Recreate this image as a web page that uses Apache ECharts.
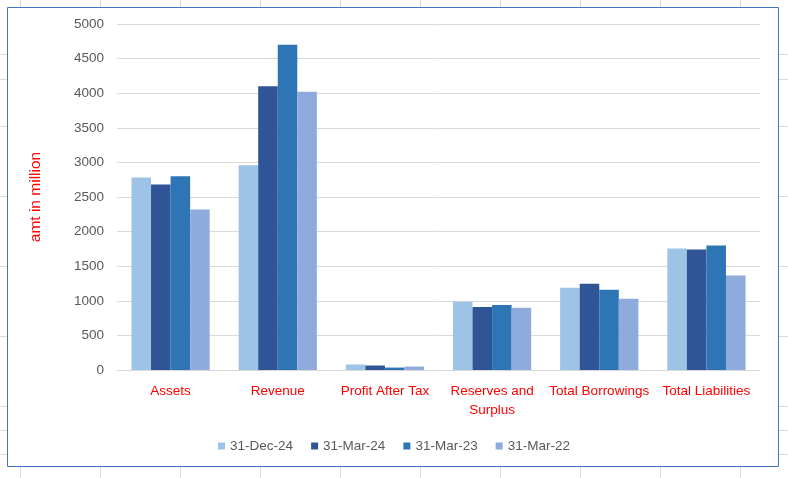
<!DOCTYPE html>
<html>
<head>
<meta charset="utf-8">
<script src="https://cdn.jsdelivr.net/npm/echarts@6/dist/echarts.min.js"></script>
<style>
html,body{margin:0;padding:0;background:#fff;}
#chart{width:788px;height:478px;}
</style>
</head>
<body>
<div id="chart"></div>
<script>
const categories = ['Assets', 'Revenue', 'Profit After Tax', 'Reserves and Surplus', 'Total Borrowings', 'Total Liabilities'];
const seriesNames = ['31-Dec-24', '31-Mar-24', '31-Mar-23', '31-Mar-22'];
const dec24 = [2780, 2960, 80, 985, 1190, 1755];
const mar24 = [2680, 4100, 65, 910, 1245, 1740];
const mar23 = [2800, 4700, 35, 940, 1160, 1800];
const mar22 = [2320, 4020, 50, 900, 1030, 1365];
const yTicks = [0, 500, 1000, 1500, 2000, 2500, 3000, 3500, 4000, 4500, 5000];

const colors = ['#9DC3E6', '#2F5597', '#2E75B6', '#8FAADC'];
const font = '"Liberation Sans", Arial, sans-serif';

// spreadsheet cell lines visible outside the chart frame
const cellLine = '#DADADA';
const graphics = [];
for (let x = 20; x < 788; x += 80) {
  graphics.push({type: 'line', z: -10, silent: true, shape: {x1: x + 0.5, y1: 0, x2: x + 0.5, y2: 7}, style: {stroke: cellLine, lineWidth: 1}});
  graphics.push({type: 'line', z: -10, silent: true, shape: {x1: x + 0.5, y1: 467, x2: x + 0.5, y2: 478}, style: {stroke: cellLine, lineWidth: 1}});
}
[54, 79, 126, 196, 266, 336, 406, 430, 454].forEach(y => {
  graphics.push({type: 'line', z: -10, silent: true, shape: {x1: 0, y1: y + 0.5, x2: 7, y2: y + 0.5}, style: {stroke: cellLine, lineWidth: 1}});
  graphics.push({type: 'line', z: -10, silent: true, shape: {x1: 779, y1: y + 0.5, x2: 788, y2: y + 0.5}, style: {stroke: cellLine, lineWidth: 1}});
});
graphics.push({type: 'rect', z: -5, silent: true, shape: {x: 7.5, y: 7.5, width: 771, height: 459}, style: {fill: '#fff', stroke: '#4472C4', lineWidth: 1}});

const seriesData = [dec24, mar24, mar23, mar22];
const chart = echarts.init(document.getElementById('chart'));
chart.setOption({
  animation: false,
  backgroundColor: '#fff',
  color: colors,
  graphic: graphics,
  grid: {left: 117, right: 28, top: 24, bottom: 108, containLabel: false},
  legend: {
    data: seriesNames,
    left: 'center',
    top: 434,
    itemWidth: 7,
    itemHeight: 7,
    itemGap: 18,
    icon: 'rect',
    textStyle: {color: '#595959', fontSize: 13.5, fontFamily: font}
  },
  xAxis: {
    type: 'category',
    data: categories,
    axisLine: {show: true, lineStyle: {color: '#D9D9D9', width: 1}},
    axisTick: {show: false},
    axisLabel: {
      interval: 0,
      color: '#FF0000',
      fontSize: 13.5,
      fontFamily: font,
      margin: 12,
      lineHeight: 19,
      formatter: v => v === 'Reserves and Surplus' ? 'Reserves and\nSurplus' : v
    }
  },
  yAxis: {
    type: 'value',
    min: yTicks[0],
    max: yTicks[yTicks.length - 1],
    interval: yTicks[1] - yTicks[0],
    name: 'amt in million',
    nameLocation: 'middle',
    nameGap: 73,
    nameTextStyle: {color: '#FF0000', fontSize: 15.5, fontFamily: font},
    axisLine: {show: false},
    axisTick: {show: false},
    splitLine: {lineStyle: {color: '#D9D9D9', width: 1}},
    axisLabel: {color: '#595959', fontSize: 13.5, fontFamily: font, margin: 13, formatter: v => String(v)}
  },
  series: seriesNames.map((n, i) => ({
    name: n,
    type: 'bar',
    data: seriesData[i],
    barGap: '0%',
    barCategoryGap: '27%'
  }))
});
</script>
</body>
</html>
